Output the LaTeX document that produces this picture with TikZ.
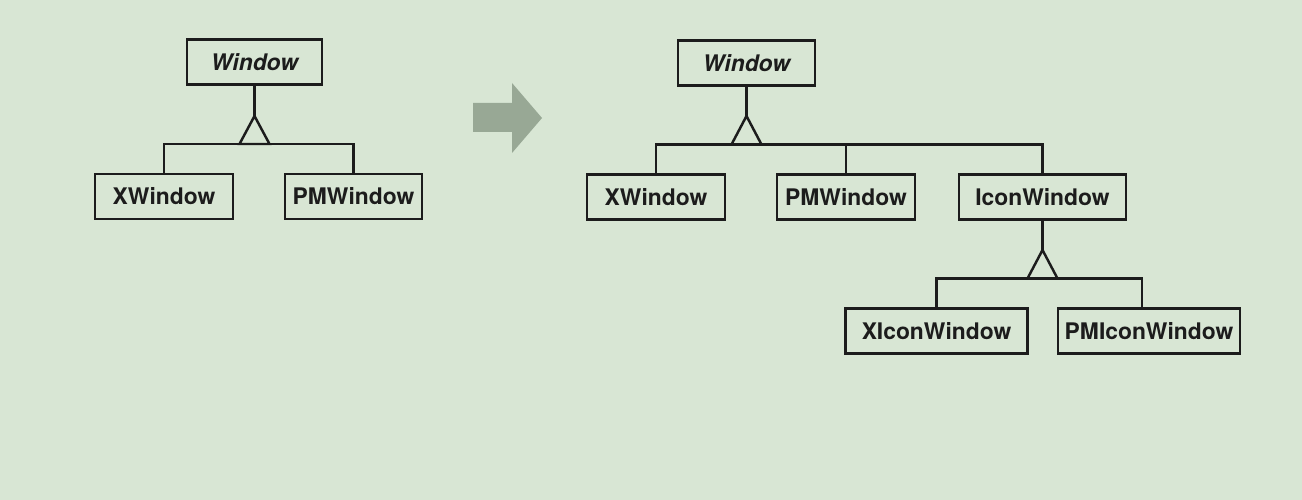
\documentclass[tikz,border=0pt]{standalone}
\usepackage{fontspec}
\setmainfont{TeX Gyre Heros}
\definecolor{paper}{HTML}{D8E6D4}
\definecolor{ink}{HTML}{1C1C1C}
\definecolor{arrowgray}{HTML}{98A895}

\begin{document}
\begin{tikzpicture}[x=0.02cm,y=-0.02cm,
    cls/.style={rectangle,draw=ink,line width=1.4pt,minimum height=0.9cm,
      inner sep=0pt,text=ink,font=\fontsize{13pt}{15pt}\selectfont\bfseries},
    abstract/.style={cls,font=\fontsize{13pt}{15pt}\selectfont\bfseries\itshape},
    link/.style={draw=ink,line width=1.4pt}]% Example:
  \fill [paper] (0,0) rectangle (1302,500);
  \useasboundingbox (0,0) rectangle (1302,500);

  % before
  \node (lwin) at (254.5,62) [abstract,minimum width=2.7cm] {Window};
  \node (lxwin) at (164,196.5) [cls,minimum width=2.76cm] {XWindow};
  \node (lpmwin) at (353.5,196.5) [cls,minimum width=2.74cm] {PMWindow};
  \coordinate (ltip) at (254.5,116);
  \coordinate (lbase) at (254.5,144);
  \draw [link] (lwin) -- (ltip);
  \draw [link] (ltip) -- ++(-15,28) -- ++(30,0) -- cycle;
  \draw [link] (lxwin) |- (lbase) -| (lpmwin);

  % arrow
  \fill [arrowgray] (473,103) -- (512,103) -- (512,83) -- (542,118)
    -- (512,153) -- (512,132) -- (473,132) -- cycle;

  % after
  \node (rwin) at (746.5,63) [abstract,minimum width=2.74cm] {Window};
  \node (rxwin) at (656,197) [cls,minimum width=2.76cm] {XWindow};
  \node (rpmwin) at (846,197) [cls,minimum width=2.76cm] {PMWindow};
  \node (ricon) at (1042.5,197) [cls,minimum width=3.34cm] {IconWindow};
  \node (rxicon) at (936.5,331) [cls,minimum width=3.64cm] {XIconWindow};
  \node (rpmicon) at (1149,331) [cls,minimum width=3.64cm] {PMIconWindow};
  \coordinate (rtip) at (746.5,116);
  \coordinate (rbase) at (746.5,144.5);
  \draw [link] (rwin) -- (rtip);
  \draw [link] (rtip) -- ++(-15,28.5) -- ++(30,0) -- cycle;
  \draw [link] (rxwin) |- (rbase) -| (ricon);
  \draw [link] (rpmwin) -- (rpmwin |- rbase);
  \coordinate (itip) at (1042.5,250);
  \coordinate (ibase) at (1042.5,278.5);
  \draw [link] (ricon) -- (itip);
  \draw [link] (itip) -- ++(-15,28.5) -- ++(30,0) -- cycle;
  \draw [link] (rxicon) |- (ibase) -| ([xshift=-0.14cm]rpmicon.north);
\end{tikzpicture}
\end{document}
